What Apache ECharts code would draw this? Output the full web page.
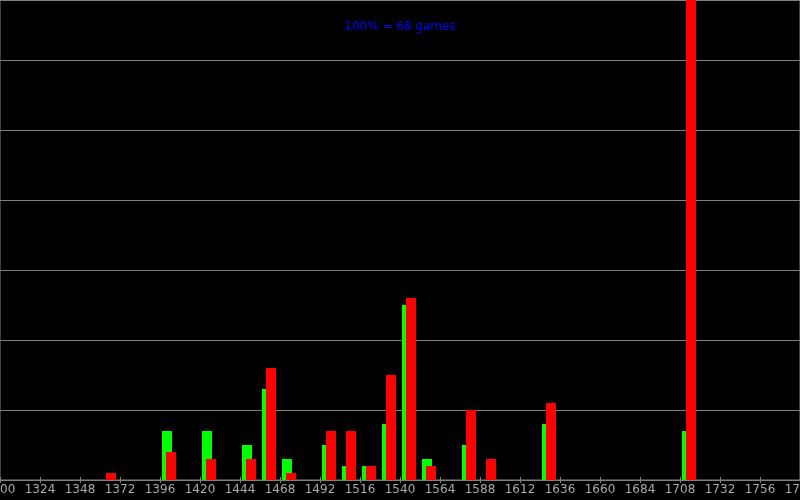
<!DOCTYPE html>
<html>
<head>
<meta charset="utf-8">
<script src="https://cdn.jsdelivr.net/npm/echarts@6/dist/echarts.min.js"></script>
<style>
html,body{margin:0;padding:0;background:#000;}
#chart{width:800px;height:500px;}
</style>
</head>
<body>
<div id="chart"></div>
<script>
// Rating bins (bin start, width 12) and percentages
const binStarts   = [1360, 1396, 1420, 1444, 1456, 1468, 1492, 1504, 1516, 1528, 1540, 1552, 1576, 1588, 1624, 1708];
const greenValues = [0,    7,    7,    5,    13,   3,    5,    2,    2,    8,    25,   3,    5,    0,    8,    7];
const redValues   = [1,    4,    3,    3,    16,   1,    7,    7,    2,    15,   26,   2,    10,   3,    11,   70];
const BIN = 12;
const xMin = 1300, xMax = 1780, xStep = 24;
const titleText = '100% = 68 games';

const centers = binStarts.map(s => s + BIN / 2 - 0.6);
const greenData = centers.map((c, i) => [c, greenValues[i]]).filter(d => d[1] > 0);
const redData = centers.map((c, i) => [c, redValues[i]]).filter(d => d[1] > 0);

const chart = echarts.init(document.getElementById('chart'), null, {renderer: 'canvas'});
chart.setOption({
  backgroundColor: '#000000',
  animation: false,
  title: {
    text: titleText,
    left: 'center',
    top: 16,
    textStyle: {color: '#0000ff', fontFamily: 'DejaVu Sans', fontSize: 12, fontWeight: 'normal'}
  },
  grid: {left: 0, right: 0, top: 0, bottom: 20, containLabel: false, outerBoundsMode: 'none',
    show: true, borderColor: '#808080', borderWidth: 1, backgroundColor: 'transparent'},
  xAxis: [{
    type: 'value', min: xMin, max: xMax, interval: xStep,
    axisLine: {show: true, lineStyle: {color: '#808080', width: 1}},
    axisTick: {show: true, length: 3, lineStyle: {color: '#808080'}},
    axisLabel: {show: true, color: '#aaaaaa', fontFamily: 'DejaVu Sans', fontSize: 12, margin: 4,
      showMinLabel: true, showMaxLabel: true, hideOverlap: false, formatter: v => String(v)},
    splitLine: {show: false}
  }, {
    type: 'value', min: xMin, max: xMax, interval: xStep, position: 'bottom',
    axisLine: {show: false},
    axisTick: {show: true, inside: true, length: 3, lineStyle: {color: '#808080'}},
    axisLabel: {show: false},
    splitLine: {show: false}
  }],
  yAxis: {
    type: 'value', min: 0, max: 480 / 7, interval: 10,
    axisLine: {show: false}, axisTick: {show: false}, axisLabel: {show: false},
    splitLine: {show: true, lineStyle: {color: '#808080', width: 1}}
  },
  series: [{
    type: 'bar', name: 'green', data: greenData, barWidth: 10, barGap: '-60%',
    itemStyle: {color: '#00ff00'}, clip: true, z: 2
  }, {
    type: 'bar', name: 'red', data: redData, barWidth: 10, barGap: '-60%',
    itemStyle: {color: '#ff0000'}, clip: true, z: 3
  }]
});
</script>
</body>
</html>
